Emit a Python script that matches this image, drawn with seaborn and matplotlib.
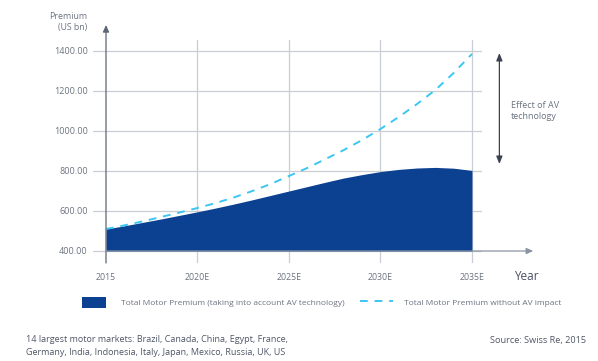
import matplotlib
matplotlib.use("Agg")
import matplotlib.pyplot as plt
from matplotlib.patches import Patch
from matplotlib.lines import Line2D
import seaborn as sns
import pandas as pd

# Data
years = list(range(2015, 2036))
with_av = [510, 526, 543, 560, 578, 596, 615, 635, 656, 678, 700,
           722, 744, 765, 782, 797, 808, 815, 818, 814, 803]
without_av = [510, 528, 548, 570, 592, 615, 640, 668, 700, 735, 775,
              815, 860, 905, 955, 1010, 1070, 1135, 1205, 1290, 1385]
tick_years = [2015, 2020, 2025, 2030, 2035]
tick_labels = ["2015", "2020E", "2025E", "2030E", "2035E"]
y_ticks = [400, 600, 800, 1000, 1200, 1400]

df = pd.DataFrame({"Year": years, "With AV": with_av, "Without AV": without_av})

sns.set_style("white")
plt.rcParams["font.family"] = ["Open Sans", "DejaVu Sans"]

text_col = "#6b7380"
grid_col = "#c9cdd4"
axis_col = "#8a94a3"
dark_blue = "#0b4190"
cyan = "#3cc6f3"

W, H = 598, 361
fig = plt.figure(figsize=(W / 100, H / 100), dpi=100)

# axes box in pixels: x 93..482, y 40..263
ax = fig.add_axes([93 / W, 1 - 263 / H, (482 - 93) / W, (263 - 40) / H])
ax.set_xlim(2014.29, 2035.55)
ax.set_ylim(340, 1455)
for s in ax.spines.values():
    s.set_visible(False)
ax.set_xticks([])
ax.set_yticks([])

# grid
for yv in y_ticks:
    ax.axhline(yv, color=grid_col, lw=0.9, zorder=0)
for xv in tick_years[1:]:
    ax.axvline(xv, color=grid_col, lw=0.9, zorder=0)

# area and dashed line
ax.fill_between(df["Year"], 400, df["With AV"], color=dark_blue, lw=0, zorder=2)
sns.lineplot(data=df, x="Year", y="Without AV", ax=ax, color=cyan, lw=1.4,
             linestyle=(0, (4, 3.5)), zorder=3)
ax.set_xlabel("")
ax.set_ylabel("")

# axis arrows
arrow_kw = dict(arrowstyle="-|>,head_width=0.18,head_length=0.4", color="#5c6677", lw=0.9,
                shrinkA=0, shrinkB=0)
ax.annotate("", xy=(2015, 1530), xytext=(2015, 340), arrowprops=arrow_kw,
            annotation_clip=False, zorder=4)
ax.annotate("", xy=(2038.35, 400), xytext=(2015, 400), arrowprops=dict(arrow_kw, color=axis_col),
            annotation_clip=False, zorder=4)

# tick labels
for yv in y_ticks:
    ax.text(2014.0, yv, f"{yv:.2f}", ha="right", va="center", fontsize=6.5, color=text_col)
for xv, lab in zip(tick_years, tick_labels):
    ax.text(xv, 270, lab, ha="center", va="center", fontsize=6.3, color=text_col)

fig.text(87 / W, 1 - 22 / H, "Premium\n(US bn)", ha="right", va="center",
         fontsize=6.3, color=text_col, linespacing=1.35)
fig.text(514 / W, 1 - 277 / H, "Year", ha="left", va="center", fontsize=8.5, color="#4a5060")

# effect arrow
ax.annotate("", xy=(2036.5, 1390), xytext=(2036.5, 835),
            arrowprops=dict(arrowstyle="<|-|>,head_width=0.18,head_length=0.45",
                            color="#3a4252", lw=0.9, shrinkA=0, shrinkB=0),
            annotation_clip=False)
fig.text(511 / W, 1 - 111 / H, "Effect of AV\ntechnology", ha="left", va="center",
         fontsize=6.5, color=text_col, linespacing=1.3)

# legend (two entries placed separately, as in the original)
leg_kw = dict(loc="center left", frameon=False, fontsize=6.0, labelcolor=text_col,
              borderpad=0, borderaxespad=0, handleheight=1.75)
fig.legend([Patch(facecolor=dark_blue, edgecolor="none")],
           ["Total Motor Premium (taking into account AV technology)"],
           bbox_to_anchor=(82 / W, 1 - 302.5 / H), handlelength=2.9, handletextpad=1.8, **leg_kw)
fig.legend([Line2D([0], [0], color=cyan, lw=1.4, linestyle=(0, (4, 3.5)))],
           ["Total Motor Premium without AV impact"],
           bbox_to_anchor=(360 / W, 1 - 302.5 / H), handlelength=4.0, handletextpad=1.3, **leg_kw)

# footnotes
fig.text(26 / W, 1 - 346 / H,
         "14 largest motor markets: Brazil, Canada, China, Egypt, France,\n"
         "Germany, India, Indonesia, Italy, Japan, Mexico, Russia, UK, US",
         ha="left", va="center", fontsize=6.5, color="#4f5666", linespacing=1.45)
fig.text(586 / W, 1 - 340 / H, "Source: Swiss Re, 2015", ha="right", va="center",
         fontsize=6.6, color="#4f5666")

fig.savefig("out.png", dpi=100)
